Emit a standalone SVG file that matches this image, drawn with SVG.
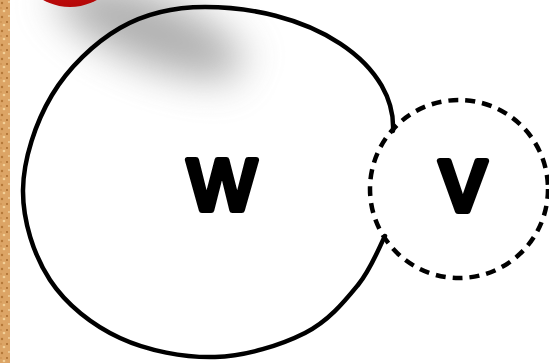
<svg xmlns="http://www.w3.org/2000/svg" width="549" height="363" viewBox="0 0 549 363">
  <defs>
    <pattern id="cork" width="12" height="14" patternUnits="userSpaceOnUse">
      <rect width="12" height="14" fill="#dca465"/>
      <circle cx="2" cy="3" r="1.2" fill="#b57838"/>
      <circle cx="7" cy="8" r="1" fill="#a86a2c"/>
      <circle cx="4" cy="11" r="1.3" fill="#f2cf96"/>
      <circle cx="9" cy="2" r="0.9" fill="#f4d6a2"/>
      <circle cx="1" cy="8" r="0.8" fill="#c58a48"/>
    </pattern>
    <radialGradient id="pin" cx="0.45" cy="0.4" r="0.6">
      <stop offset="0" stop-color="#e82020"/>
      <stop offset="1" stop-color="#b50808"/>
    </radialGradient>
    <filter id="blur" x="-60%" y="-100%" width="220%" height="300%">
      <feGaussianBlur stdDeviation="20"/>
    </filter>
    <style>
      .solid { fill: none; stroke: #000; stroke-width: 4.5; stroke-linecap: round; stroke-linejoin: round; }
      .dash { fill: none; stroke: #000; stroke-width: 4.5; stroke-dasharray: 10 7; }
      .lbl { font-family: "Liberation Sans", Arial, sans-serif; font-weight: normal; font-size: 94px; fill: #000; stroke: #000; stroke-width: 6; stroke-linejoin: round; stroke-linecap: round; text-anchor: middle; }
    </style>
  </defs>
  <rect width="549" height="363" fill="#fff"/>
  <rect x="0" y="0" width="10" height="363" fill="url(#cork)"/>
  <ellipse cx="150" cy="30" rx="100" ry="34" transform="rotate(22 150 30)" fill="#7a7a7a" opacity="0.6" filter="url(#blur)"/>
  <circle cx="70" cy="-48" r="55" fill="url(#pin)"/>
  <g id="node-w">
    <path class="solid" d="M393,131 A188,120 0 0 0 205,7 C175,7 145.5,13.3 120,28 C94.5,42.7 68.2,68 52,95 C35.8,122 23.3,159.2 23,190 C22.7,220.8 33.8,255.3 50,280 C66.2,304.7 92.5,325.2 120,338 C147.5,350.8 184.2,357.8 215,357 C245.8,356.2 281.2,345 305,333 C328.8,321 344.7,301.2 358,285 C371.3,268.8 380.5,244.2 385,236"/>
    <text class="lbl" x="222" y="210">w</text>
  </g>
  <g id="node-v">
    <circle class="dash" cx="459" cy="189" r="89"/>
    <text class="lbl" x="463" y="211">v</text>
  </g>
  <g id="connectors"/>
</svg>
